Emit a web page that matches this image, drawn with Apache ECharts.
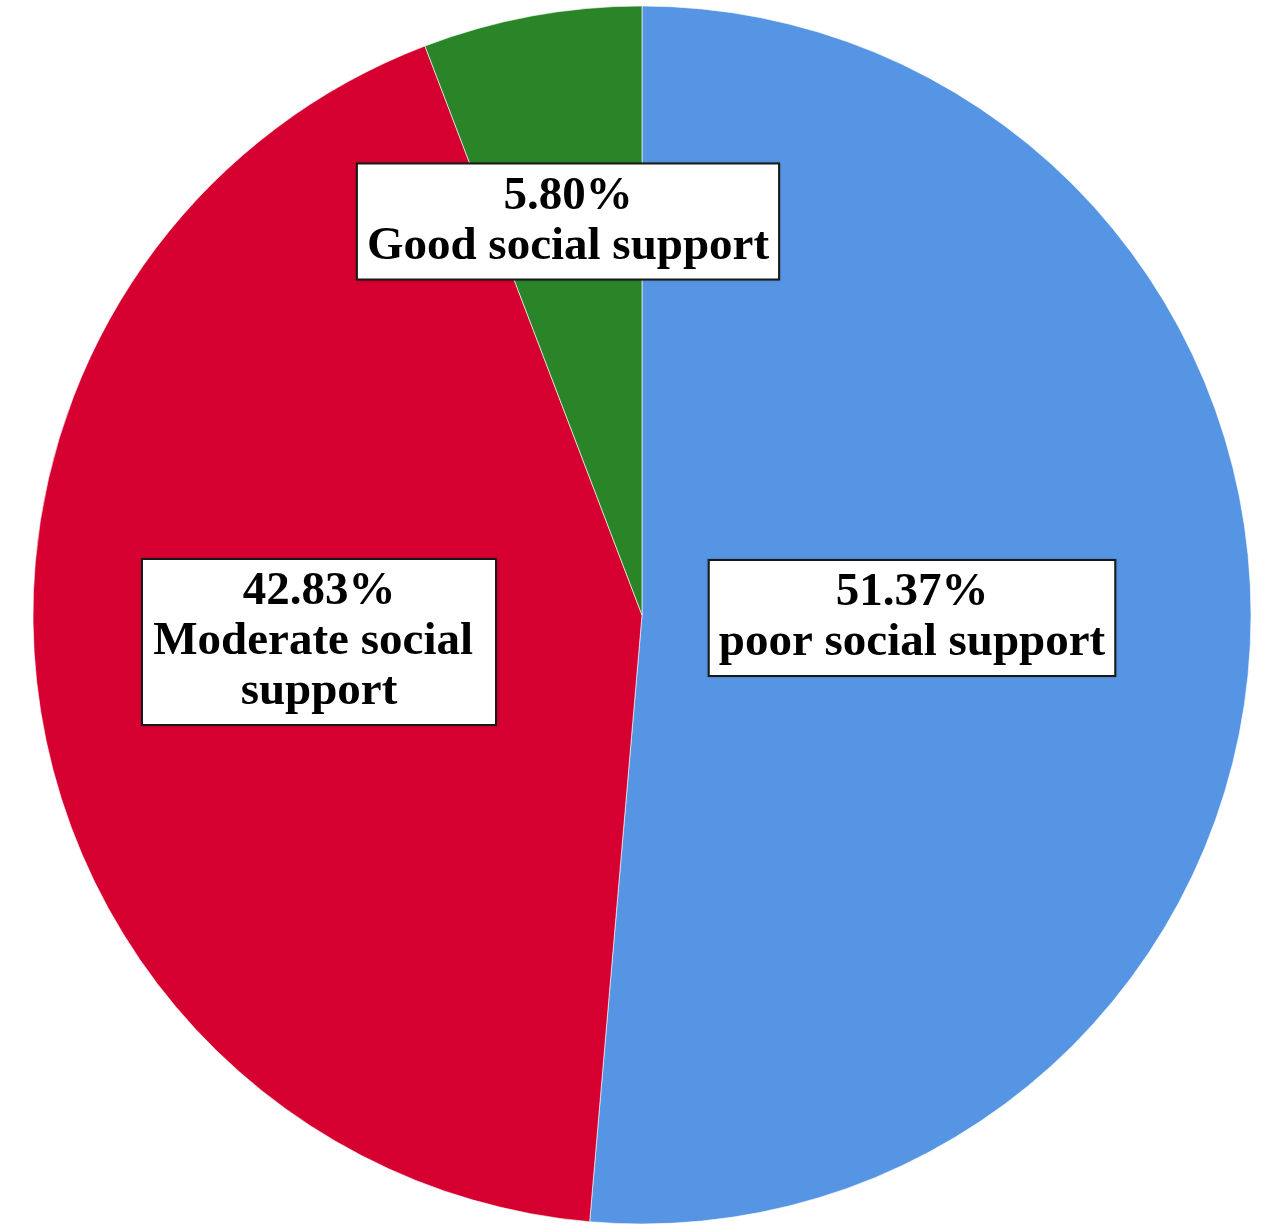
<!DOCTYPE html>
<html>
<head>
<meta charset="utf-8">
<script src="https://cdn.jsdelivr.net/npm/echarts@6/dist/echarts.min.js"></script>
<style>
html,body{margin:0;padding:0;background:#fff;}
#chart{width:1284px;height:1232px;}
</style>
</head>
<body>
<div id="chart"></div>
<script>
const categories = ['poor social support', 'Moderate social support', 'Good social support'];
const values = [51.37, 42.83, 5.80];
const valueLabels = ['51.37%', '42.83%', '5.80%'];
const colors = ['#5595E3', '#D50030', '#2A8529'];

// label box centers (fraction of chart width/height)
const labelCenters = [[912 / 1284, 618 / 1232], [319 / 1284, 642 / 1232], [568 / 1284, 221.5 / 1232]];

const chart = echarts.init(document.getElementById('chart'), null, { renderer: 'canvas' });
const W = 1284, H = 1232;

const option = {
  backgroundColor: '#ffffff',
  animation: false,
  series: [{
    type: 'pie',
    center: [642, 615],
    radius: 609,
    startAngle: 90,
    clockwise: true,
    avoidLabelOverlap: false,
    itemStyle: { borderColor: 'rgba(255,255,255,0.6)', borderWidth: 1 },
    label: {
      show: true,
      position: 'inside',
      formatter: function (p) { return valueLabels[p.dataIndex] + '\n' + p.name; },
      fontFamily: '"Liberation Serif", "Times New Roman", serif',
      fontWeight: 'bold',
      fontSize: 47,
      lineHeight: 50,
      color: '#000',
      backgroundColor: '#fff',
      borderColor: '#1a1a1a',
      borderWidth: 2,
      padding: [8, 9, 6, 9],
      align: 'center',
      shadowColor: 'rgba(0,0,0,0.3)',
      shadowBlur: 2
    },
    labelLine: { show: false },
    labelLayout: function (params) {
      const c = labelCenters[params.dataIndex];
      return { x: c[0] * W, y: c[1] * H, align: 'center', verticalAlign: 'middle' };
    },
    emphasis: { disabled: true },
    data: categories.map(function (name, i) {
      const d = { name: name, value: values[i], itemStyle: { color: colors[i] } };
      if (i === 1) d.label = { width: 334, overflow: 'break' };
      return d;
    })
  }]
};
chart.setOption(option);
</script>
</body>
</html>
